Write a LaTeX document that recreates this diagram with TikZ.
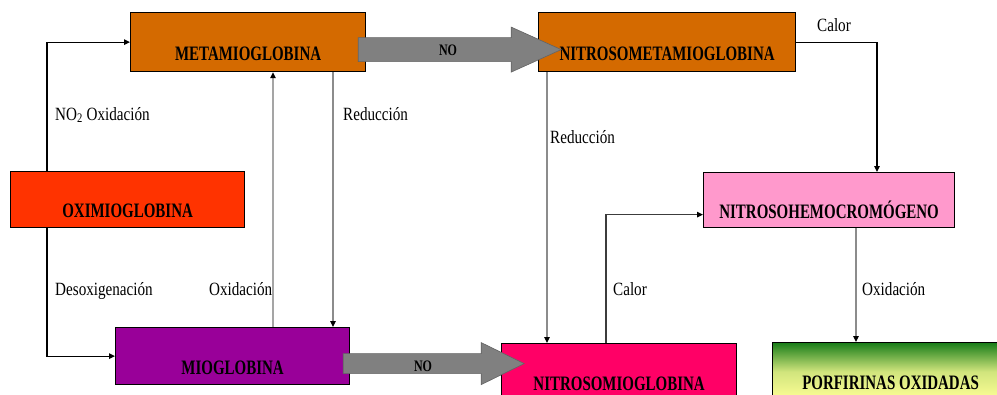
\documentclass[tikz,border=0pt]{standalone}
\usepackage{fontspec}
\setmainfont{Liberation Serif}
\newfontfamily\boxfam[FakeStretch=0.73]{Liberation Serif}
\newfontfamily\labfam[FakeStretch=0.81]{Liberation Serif}
\newfontfamily\nofam[FakeStretch=0.75]{Liberation Serif}
\usetikzlibrary{arrows.meta}
\definecolor{metaorange}{RGB}{212,106,0}
\definecolor{oxired}{RGB}{255,51,0}
\definecolor{miopurple}{RGB}{153,0,153}
\definecolor{nmiopink}{RGB}{255,0,102}
\definecolor{hemopink}{RGB}{255,153,204}
\definecolor{porfgreen}{RGB}{25,125,25}
\definecolor{porfyellow}{RGB}{255,255,150}
\definecolor{fatgray}{RGB}{128,128,128}
\definecolor{fatedge}{RGB}{100,100,100}
\definecolor{lightline}{RGB}{165,165,165}
\definecolor{midline}{RGB}{140,140,140}
\definecolor{darkline}{RGB}{60,60,60}
\newcommand\boxtxt[1]{\raisebox{-18pt}[0pt][0pt]{#1}}
\begin{document}
\begin{tikzpicture}[x=1pt,y=-1pt,
  boxnode/.style={draw=black, line width=1.2pt, inner sep=0pt, anchor=north west,
    font=\boxfam\fontsize{20.5pt}{20.5pt}\selectfont\bfseries},
  lab/.style={anchor=base west, inner sep=0pt, font=\labfam\fontsize{18.7pt}{18.7pt}\selectfont},
  notext/.style={inner sep=0pt, font=\nofam\fontsize{16pt}{16pt}\selectfont\bfseries},
  conn/.style={line width=1.2pt, draw=black, -{Triangle[length=6pt,width=5.5pt,color=black]}},
  gconn/.style={conn, draw=midline},
  lconn/.style={conn, draw=lightline},
  fatarrow/.style={fill=fatgray, draw=fatedge, line width=0.6pt, line join=miter}
]
\useasboundingbox (0,0) rectangle (997,394);
\clip (0,0) rectangle (997,394);
\fill[white] (0,0) rectangle (997,394);

% boxes
\node[boxnode, fill=metaorange, minimum width=235pt, minimum height=59pt] (meta) at (130,12) {\boxtxt{METAMIOGLOBINA}};
\node[boxnode, fill=metaorange, minimum width=257pt, minimum height=59pt] (nmeta) at (538,12) {\boxtxt{NITROSOMETAMIOGLOBINA}};
\node[boxnode, fill=oxired, minimum width=234pt, minimum height=56pt] (oxi) at (10,171) {\boxtxt{OXIMIOGLOBINA}};
\node[boxnode, fill=miopurple, minimum width=234pt, minimum height=57pt] (mio) at (115,327) {\boxtxt{MIOGLOBINA}};
\node[boxnode, fill=hemopink, minimum width=251pt, minimum height=55pt] (hemo) at (703,172) {\boxtxt{NITROSOHEMOCROMÓGENO}};
\node[boxnode, fill=nmiopink, minimum width=235pt, minimum height=57pt] (nmio) at (501,343) {\boxtxt{NITROSOMIOGLOBINA}};
\node[boxnode, top color=porfgreen, bottom color=porfyellow, middle color=porfyellow!80!porfgreen, minimum width=236pt, minimum height=58pt] (porf) at (772,342) {\boxtxt{PORFIRINAS OXIDADAS}};

% thin connectors
\draw[conn] ([xshift=37pt]oxi.north west) |- (meta.west);
\draw[conn] ([xshift=37pt]oxi.south west) |- (mio.west);
\draw[lconn] ([xshift=158pt]mio.north west) -- ([xshift=143pt]meta.south west);
\draw[gconn] ([xshift=203pt]meta.south west) -- ([xshift=218pt]mio.north west);
\draw[gconn] ([xshift=9pt]nmeta.south west) -- ([xshift=46pt]nmio.north west);
\draw[conn] (nmeta.east) -| ([xshift=174pt]hemo.north west);
\draw[conn, draw=darkline] ([xshift=105pt]nmio.north west) |- ([yshift=-14.5pt]hemo.west);
\draw[gconn] ([xshift=153pt]hemo.south west) -- ([xshift=84pt]porf.north west);

% fat NO arrows
\filldraw[fatarrow] ([xshift=-8pt,yshift=-7.5pt]meta.east) ++(0,-12) -- ++(153,0) -- ++(0,-10.5)
  -- ++(50,22.5) -- ++(-50,22.5) -- ++(0,-10.5) -- ++(-153,0) -- cycle;
\filldraw[fatarrow] ([xshift=-7pt,yshift=-7.5pt]mio.east) ++(0,-10) -- ++(138,0) -- ++(0,-11)
  -- ++(43,21) -- ++(-43,21) -- ++(0,-11) -- ++(-138,0) -- cycle;
\node[notext] (no1) at (448,50) {NO};
\node[notext] (no2) at (423,366) {NO};

% labels
\node[lab] (l1) at (55,120) {NO\textsubscript{2} Oxidación};
\node[lab] (l2) at (343,120) {Reducción};
\node[lab] (l3) at (550,143) {Reducción};
\node[lab] (l4) at (817,31) {Calor};
\node[lab] (l5) at (55,295) {Desoxigenación};
\node[lab] (l6) at (209,295) {Oxidación};
\node[lab] (l7) at (613,295) {Calor};
\node[lab] (l8) at (862,295) {Oxidación};
\end{tikzpicture}
\end{document}
